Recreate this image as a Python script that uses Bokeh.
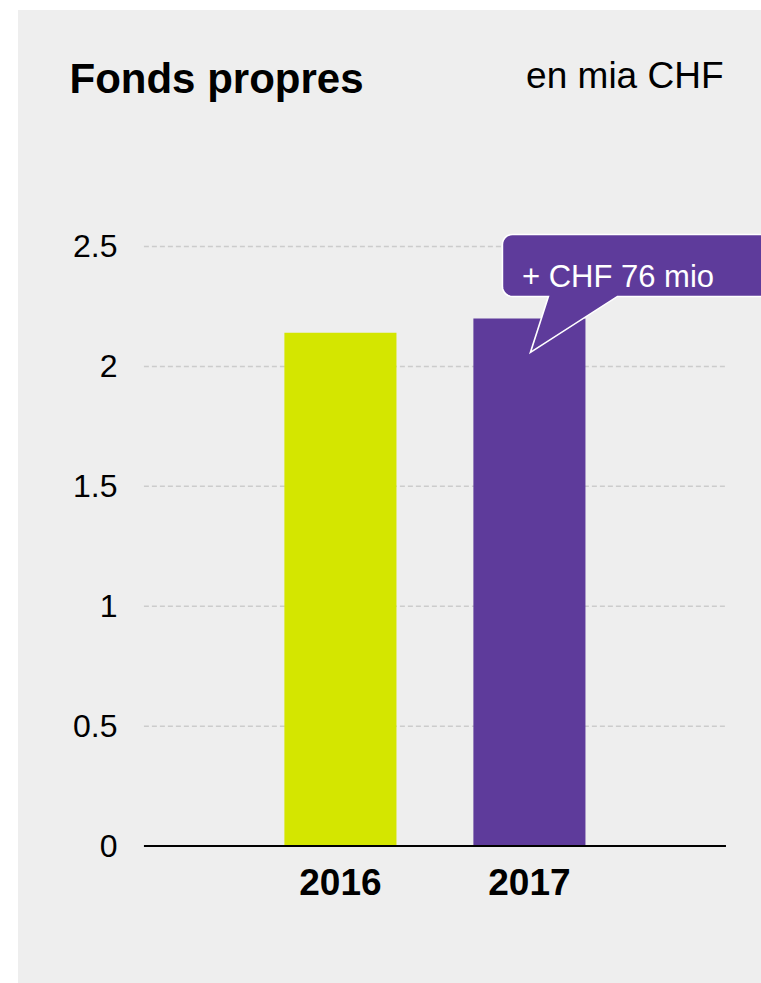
import numpy as np
from bokeh.plotting import figure
from bokeh.layouts import column
from bokeh.models import Range1d, FixedTicker
from bokeh.core.properties import value
from bokeh.embed import file_html
from bokeh.resources import INLINE

# ---- data ----
years = ["2016", "2017"]
equity = [2.14, 2.20]          # en mia CHF
bar_colors = ["#d4e600", "#5e3b9b"]
y_ticks = [0, 0.5, 1, 1.5, 2, 2.5]
y_tick_labels = ["0", "0.5", "1", "1.5", "2", "2.5"]
title_text = "Fonds propres"
unit_text = "en mia CHF"
callout_text = "+ CHF 76 mio"

FONT = "Liberation Sans"
BG = "#eeeeee"
W = 743
HH = 150                      # header height
H = 973 - HH                  # chart height
ML, MR, MT, MB = 125, 0, 62, 135
X0, X1 = -1.042, 2.228
Y0, Y1 = -0.01, 2.6
pad = 1.04

# ---- header (title + unit) ----
hdr = figure(width=W, height=HH, output_backend="svg", toolbar_location=None,
             x_range=Range1d(0, W), y_range=Range1d(0, HH),
             min_border_left=0, min_border_right=0, min_border_top=0, min_border_bottom=0)
hdr.title.visible = False
hdr.frame_align = False
hdr.axis.visible = False
hdr.grid.visible = False
hdr.background_fill_color = None
hdr.border_fill_color = BG
hdr.outline_line_color = None
hdr.text(x=[51], y=[82], text=[title_text], text_font=value(FONT), text_font_size="42px",
         text_font_style="bold", text_color="#000000", text_align="left", text_baseline="alphabetic")
hdr.text(x=[705], y=[85], text=[unit_text], text_font=value(FONT), text_font_size="37px",
         text_color="#000000", text_align="right", text_baseline="alphabetic")

# ---- chart ----
fw, fh = W - ML - MR, H - MT - MB
ppx = fw / (X1 - X0)   # pixels per x unit
ppy = fh / (Y1 - Y0)   # pixels per y unit

p = figure(width=W, height=H, output_backend="svg", toolbar_location=None,
           x_range=Range1d(X0, X1), y_range=Range1d(Y0, Y1),
           min_border_left=ML, min_border_right=MR, min_border_top=MT, min_border_bottom=MB)
p.title.visible = False
p.frame_align = False
p.background_fill_color = None
p.border_fill_color = BG
p.outline_line_color = None
p.xgrid.visible = False
p.ygrid.visible = False

xs = list(range(len(years)))

# dashed grid lines
gl = [t for t in y_ticks if t > 0]
p.segment(x0=[-pad] * len(gl), x1=[len(years) - 1 + pad] * len(gl), y0=gl, y1=gl,
          line_color="#cccccc", line_width=1.5, line_dash="5 3")

# bars
p.vbar(x=xs, top=equity, bottom=0, width=0.593, color=bar_colors, line_color=None)

# baseline
p.segment(x0=[-pad], x1=[len(years) - 1 + pad], y0=[0], y1=[0], line_color="#000000", line_width=2)

# callout (pixel offsets relative to the tip, which sits on the 2017 bar)
tip_x = xs[1] + 1 / ppx
tip_y = equity[1] - 34 / ppy
r = 10
left, right, ty, by = -28, 280, 118, 56
base_l, base_r = 18, 87
path = []
def arc(cx, cy, a0, a1):
    for a in np.linspace(a0, a1, 8):
        path.append((cx + r * np.cos(a), cy + r * np.sin(a)))
arc(left + r, ty - r, np.pi, np.pi / 2)
path.append((right, ty))
path.append((right, by))
path.append((base_r, by))
path.append((0, 0))
path.append((base_l, by))
arc(left + r, by + r, -np.pi / 2, -np.pi)
px = [tip_x + a / ppx for a, b in path]
py = [tip_y + b / ppy for a, b in path]
p.patch(px, py, fill_color=bar_colors[1], line_color="white", line_width=1.6, line_join="miter")

p.text(x=[tip_x - 8.5 / ppx], y=[tip_y + 76 / ppy], text=[callout_text],
       text_color="white", text_font=value(FONT), text_font_size="31px",
       text_align="left", text_baseline="alphabetic")

# axes
p.xaxis.ticker = FixedTicker(ticks=xs)
p.xaxis.major_label_overrides = {i: y for i, y in zip(xs, years)}
p.yaxis.ticker = FixedTicker(ticks=y_ticks)
p.yaxis.major_label_overrides = {t: l for t, l in zip(y_ticks, y_tick_labels)}
for ax in (p.xaxis, p.yaxis):
    ax.axis_line_color = None
    ax.major_tick_line_color = None
    ax.minor_tick_line_color = None
    ax.major_tick_out = 0
    ax.major_tick_in = 0
    ax.major_label_text_font = FONT
    ax.major_label_text_color = "#000000"
p.yaxis.major_label_text_font_size = "32px"
p.yaxis.major_label_standoff = 26
p.xaxis.major_label_text_font_size = "37px"
p.xaxis.major_label_text_font_style = "bold"
p.xaxis.major_label_standoff = 20

layout = column(hdr, p, spacing=0, margin=(10, 0, 0, 18),
                styles={"background-color": BG})

open("out.html", "w").write(file_html(layout, INLINE))
